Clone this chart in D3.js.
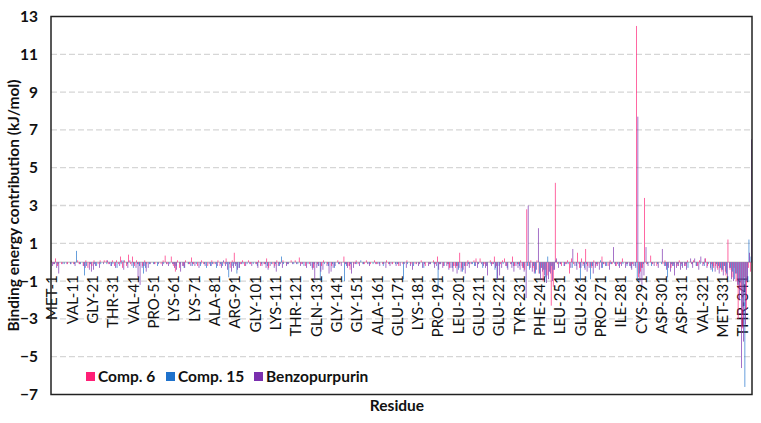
<!DOCTYPE html>
<html>
<head>
<meta charset="utf-8">
<script src="https://cdn.jsdelivr.net/npm/d3@7"></script>
<style>
  body { margin: 0; background: #fff; }
  text { font-family: Lato, "Liberation Sans", sans-serif; fill: #111; }
</style>
</head>
<body>
<div id="container"></div>
<script>
/* CONSTANTS AND GLOBALS */
const width = 761,
  height = 423,
  margin = { top: 16.5, bottom: 28.5, left: 51, right: 9 };

/* DATA */
// residue numbers 1..345 (one band per residue)
const residues = d3.range(1, 346);

// labelled residues on the x axis (every 10th)
const tickLabels = ["MET-1", "VAL-11", "GLY-21", "THR-31", "VAL-41", "PRO-51", "LYS-61", "LYS-71",
  "ALA-81", "ARG-91", "GLY-101", "LYS-111", "THR-121", "GLN-131", "GLY-141", "GLY-151", "ALA-161",
  "GLU-171", "LYS-181", "PRO-191", "LEU-201", "GLU-211", "GLU-221", "TYR-231", "PHE-241", "LEU-251",
  "GLU-261", "PRO-271", "ILE-281", "CYS-291", "ASP-301", "ASP-311", "VAL-321", "MET-331", "THR-341"];

const yTicks = [13, 11, 9, 7, 5, 3, 1, -1, -3, -5, -7];

const seriesNames = ["Comp. 6", "Comp. 15", "Benzopurpurin"];
const seriesColors = ["#ff1f76", "#1f72cc", "#7a2fae"];

// Comp. 6 (kJ/mol), residues 1..345
const comp6 = [
  0.1, -0.1, 0.2, -0.2, 0, -0.1, 0, 0, -0.1, 0,
  0, -0.1, 0, 0.1, -0.1, 0, -0.2, 0.1, -0.3, -0.1,
  -0.2, 0.1, 0, -0.1, 0.1, 0, 0.1, 0.1, -0.1, 0,
  0.1, -0.2, 0.1, -0.1, 0.3, -0.3, 0.1, -0.2, 0.4, -0.1,
  0.3, -0.2, 0.1, -0.1, 0, -0.2, 0.1, -0.1, 0, 0,
  0, -0.1, 0, 0, -0.1, 0.1, 0.35, -0.1, 0, 0.3,
  -0.2, -0.5, 0.1, -0.3, 0, -0.2, 0.1, 0, -0.1, 0.25,
  -0.1, 0, -0.2, 0, 0.1, -0.1, 0, -0.2, 0, 0.1,
  -0.1, 0, 0.1, -0.2, 0, -0.1, 0.2, 0, -0.3, 0.1,
  0.5, -0.1, 0, -0.1, 0.1, -0.2, 0, 0.1, -0.1, 0,
  0, -0.1, 0.1, -0.2, 0, -0.1, 0.2, -0.3, 0, -0.1,
  -0.2, 0.1, -0.1, 0, 0.1, 0, -0.1, 0, 0.1, 0,
  0.1, 0, 0.25, -0.1, 0, -0.2, 0, -0.1, 0, -0.3,
  0, -0.1, 0, -0.2, 0.1, 0, -0.1, 0, -0.2, 0,
  0, 0.1, -0.1, 0, 0.3, -0.1, -0.2, -0.4, 0, -0.1,
  0.1, -0.1, 0, 0, -0.1, 0.1, 0, -0.1, 0, 0.1,
  -0.1, 0, 0, -0.1, 0, 0.1, -0.1, 0, -0.1, 0,
  0, -0.2, 0, -0.1, 0, 0.1, 0, -0.1, 0, -0.1,
  0, -0.1, 0.1, 0, -0.2, 0, -0.1, 0, 0.1, -0.1,
  0.3, -0.1, 0, -0.2, 0, -0.1, -0.3, 0, -0.2, -0.3,
  -0.2, 0.5, -0.3, 0, -0.2, 0.1, -0.1, 0, 0.1, 0.2,
  -0.1, 0.2, 0, -0.1, -0.2, 0, 0.1, -0.1, 0.3, -0.2,
  0, -0.1, 0.1, 0.2, -0.2, 0, -0.1, 0.3, -0.2, 0,
  -0.1, 0.1, -0.3, -0.4, 2.8, -0.2, 0.1, -0.3, -0.5, 0.1,
  -0.6, -0.3, -1.0, -0.4, -0.7, -0.5, -2.3, -1.3, 4.2, -0.1,
  0, -0.2, 0, -0.1, 0.1, -0.6, 0.2, -0.1, 0, 0.5,
  -0.3, 0.2, -0.1, 0.7, -0.2, 0, -0.3, 0.1, -0.2, -0.1,
  0, 0.3, -0.1, 0, -0.2, 0.1, -0.1, 0, -0.2, 0,
  -0.1, 0.2, 0, -0.1, 0, -0.2, -0.1, 0, 12.5, -0.8,
  -0.5, -0.3, 3.4, -0.1, 0, 0.35, -0.1, 0, -0.2, 0,
  0, -0.1, 0.1, -0.2, 0, -0.3, -0.1, 0, -0.2, 0.1,
  -0.1, 0, -0.2, 0.1, 0, -0.1, 0.1, 0, -0.2, 0.1,
  0, -0.1, 0.2, -0.2, 0, -0.1, -0.3, -0.2, -0.4, -0.3,
  -0.5, -0.2, -0.7, 1.2, -0.4, -0.8, -0.3, -1.0, -3.0, -1.5,
  -3.5, -0.8, -2.5, -0.3, -0.5
];

// Comp. 15 (kJ/mol)
const comp15 = [
  0, -0.1, 0, -0.1, 0, 0, -0.1, 0, 0, -0.1,
  0, -0.1, 0.6, 0, -0.1, 0, -0.7, -0.2, 0, -0.1,
  0, -0.1, -0.2, 0, -0.1, 0, 0, -0.1, 0, -0.2,
  -0.1, 0, -0.3, 0, -0.1, 0.1, 0, -0.1, 0, 0,
  -0.3, 0, -0.1, -0.2, 0, -0.6, -0.3, 0, -0.1, 0,
  -0.1, 0, -0.2, 0, 0, -0.1, 0, 0, -0.1, 0,
  -0.1, -0.2, 0, -0.1, 0, -0.3, 0, -0.1, 0, -0.2,
  0, -0.1, 0, -0.2, 0, -0.1, -0.3, 0, -0.2, -0.1,
  0, -0.3, 0, -0.1, -0.2, 0, -0.1, -0.8, 0, -0.2,
  -0.1, -0.6, -0.3, 0, -0.1, 0, -0.1, 0, 0, -0.1,
  0, -0.2, 0, -0.1, 0, -0.1, -0.2, 0, -0.1, 0,
  -0.1, 0, -0.2, 0.3, -0.1, 0, -0.1, 0, 0, -0.1,
  0, -0.1, 0, 0, -0.2, 0, -0.1, 0, -0.3, -0.1,
  0, -0.2, -1.0, 0, -0.1, 0, -0.2, 0, -0.1, -0.3,
  0, -0.1, 0, 0, -1.0, -0.2, 0, -0.1, 0, 0,
  -0.1, 0, 0.1, -0.1, 0, 0, -0.1, 0, -0.1, 0,
  0, -0.1, 0, -0.2, 0, 0, -0.1, 0, 0, -0.1,
  -0.1, 0, 0, -0.9, 0, -0.1, 0, 0, -0.2, 0,
  0, -0.1, 0, -0.3, 0, 0, -0.1, 0, -0.1, 0,
  -1.6, -0.1, 0, -0.2, 0, -0.1, 0, -0.3, 0, -0.2,
  -0.4, 0, -0.5, -0.2, 0, -0.1, 0, -0.1, -0.2, 0,
  -0.1, 0, -0.3, 0, -0.2, 0, -0.1, 0, -0.4, -0.9,
  -0.2, 0, -0.1, 0, -0.3, 0, -0.1, -0.2, 0, -0.1,
  -0.2, 0, -0.3, 0, -0.2, -0.4, 0, -0.2, -0.6, 0,
  -0.6, -0.3, -0.4, -0.8, 0.3, -0.5, -0.2, -0.4, 0.1, 0,
  -0.1, 0, -0.2, 0, -0.1, 0, -0.3, 0, -0.2, 0,
  -1.0, 0, -0.3, -0.1, 0, -0.9, -0.2, 0, -0.1, 0,
  0.1, -0.3, 0, -0.2, 0, -0.1, 0, -0.1, 0, -0.2,
  0, -0.1, 0, -0.2, 0, -0.3, 0, -0.2, -1.0, -0.6,
  -0.3, -0.1, 0, -0.1, 0, -0.2, 0, 0, -0.1, 0,
  -0.1, 0, -0.2, -0.8, 0, -0.1, -0.2, 0, -0.1, 0,
  -0.2, 0, -0.1, -0.3, 0, -0.1, 0, -0.2, 0, -0.1,
  0, -0.2, 0, -0.1, -0.3, -0.5, 0, -0.1, -0.2, -0.3,
  -0.4, -0.2, -0.6, 0, -0.3, -0.5, -0.9, -0.6, -1.2, -1.0,
  -2.4, -6.6, -1.0, 1.2, 0.3
];

// Benzopurpurin (kJ/mol)
const benzo = [
  -0.2, -0.1, -0.3, -0.6, 0, -0.1, 0, -0.1, 0, -0.1,
  0, -0.2, 0, -0.1, 0, -0.2, -0.3, 0, -0.4, -0.5,
  -0.4, -0.2, 0, -0.3, 0, -0.1, 0, 0.1, -0.1, -0.2,
  0, -0.3, 0, -0.2, 0.1, -0.4, 0, -0.3, 0.1, -0.2,
  -0.1, -0.3, -0.8, -1.2, -0.3, -0.2, -0.5, -0.3, -0.1, 0,
  -0.1, 0, -0.1, 0, -0.2, 0, -0.1, -0.2, 0, -0.1,
  -0.3, -0.4, 0, -0.5, -0.2, -0.3, 0, -0.1, -0.2, -0.1,
  -0.2, 0, -0.3, -0.1, 0, -0.2, 0, -0.1, -0.2, 0,
  -0.1, -0.2, 0, -0.3, 0.1, -0.2, -0.4, -0.1, -0.5, -0.3,
  -0.2, -0.4, -0.3, -0.1, 0, -0.2, 0, -0.1, -0.2, 0,
  -0.1, -0.3, 0, -0.2, -0.1, -0.3, -0.4, -0.2, 0, -0.3,
  -0.5, -0.2, -0.1, -0.3, 0, -0.2, -0.1, 0, -0.1, 0,
  -0.1, 0, -0.2, -0.1, 0, -0.3, 0, -0.2, -0.4, -0.9,
  -0.3, -0.2, -0.5, -0.4, 0, -0.2, -0.6, -0.5, -0.3, -0.2,
  0, -0.1, -0.2, 0, -0.1, -0.3, -0.2, -0.6, -0.3, -0.1,
  0, -0.2, 0, -0.1, 0, -0.1, -0.2, 0, 0, -0.1,
  -0.1, -0.2, 0, -0.1, -0.3, 0, -0.2, -0.1, 0, -0.2,
  -0.1, -0.2, 0, -0.1, -0.3, 0, -0.2, -0.4, 0, -0.1,
  -0.2, 0, -0.3, -0.1, 0, -0.2, -0.1, 0, -0.3, -0.2,
  -0.4, -0.1, -0.3, 0, -0.2, -0.4, -0.3, -0.5, -0.2, -0.6,
  -0.3, -0.5, -0.4, -0.6, -0.2, -0.3, -0.1, 0, -0.2, -0.3,
  0, -0.1, -0.2, -0.3, -0.7, 0, -0.2, -0.1, -0.3, -0.9,
  -0.7, -0.3, 0, -0.2, -0.4, 0, -0.3, -0.5, -0.2, -0.3,
  -0.4, -0.2, -0.5, -1.9, 3.0, -0.3, -0.5, -0.6, -0.4, 1.8,
  -0.9, -0.5, -0.7, -1.1, -0.9, -0.6, -1.0, -0.4, 0.2, -0.3,
  -0.1, 0, -0.2, -0.1, 0, -0.3, 0.7, -0.2, -0.4, -0.1,
  -0.3, -0.2, -0.4, -0.5, -0.3, -0.2, -0.6, -0.3, -0.2, -0.4,
  -0.3, -0.1, -0.2, 0, -0.4, -0.1, 0.8, -0.2, -0.1, -0.3,
  -0.2, 0, -0.3, -0.1, -0.2, -0.4, -0.2, -0.3, 7.7, -1.0,
  -1.2, -0.7, 0.8, -0.2, 0, -0.1, -0.2, 0, -0.3, 0,
  0.7, -0.2, -0.4, -0.3, -0.5, -0.2, -0.7, -0.3, -0.2, -0.4,
  -0.3, -0.2, -0.4, 0, 0.2, -0.3, 0.2, -0.2, -0.4, 0.3,
  -0.2, 0.2, -0.3, 0, -0.4, -0.2, -0.5, -0.3, -0.6, -0.4,
  -0.7, -0.5, -0.8, -0.3, -0.9, -1.0, -0.6, -1.2, -2.0, -5.6,
  -4.2, -3.3, -1.0, 0.5, 6.5
];

const seriesValues = [comp6, comp15, benzo];

/* SCALES */
const xScale = d3.scaleBand()
  .domain(residues)
  .range([margin.left, width - margin.right])
  .padding(0);

const xInner = d3.scaleBand()
  .domain(d3.range(seriesNames.length))
  .range([0, xScale.bandwidth()])
  .padding(0);

const yScale = d3.scaleLinear()
  .domain([-7, 13])
  .range([height - margin.bottom, margin.top]);

const colorScale = d3.scaleOrdinal()
  .domain(d3.range(seriesNames.length))
  .range(seriesColors);

/* HTML ELEMENTS */
const svg = d3.select("#container")
  .append("svg")
  .attr("width", width)
  .attr("height", height);

// dashed gridlines
svg.append("g")
  .selectAll("line")
  .data(yTicks.filter(d => d !== 13 && d !== -7))
  .join("line")
  .attr("x1", margin.left)
  .attr("x2", width - margin.right)
  .attr("y1", d => yScale(d))
  .attr("y2", d => yScale(d))
  .attr("stroke", "#d6d6d6")
  .attr("stroke-width", 1.3)
  .attr("stroke-dasharray", "6,3");

// zero line
svg.append("line")
  .attr("x1", margin.left)
  .attr("x2", width - margin.right)
  .attr("y1", yScale(0))
  .attr("y2", yScale(0))
  .attr("stroke", "#cfcfcf")
  .attr("stroke-width", 1.5);

// x axis labels (every 10th residue)
const xAxis = d3.axisBottom(xScale)
  .tickValues(residues.filter(r => r % 10 === 1))
  .tickFormat((r, i) => tickLabels[i])
  .tickSize(0);

svg.append("g")
  .attr("transform", `translate(0, ${yScale(0)})`)
  .call(xAxis)
  .call(g => g.select(".domain").remove())
  .selectAll("text")
  .attr("transform", "rotate(-90)")
  .attr("x", -13)
  .attr("y", 0)
  .attr("dy", "0.36em")
  .attr("text-anchor", "end")
  .attr("font-size", 15)
  .attr("font-family", "Lato, sans-serif")
  .attr("fill", "#111");

// bars
const bars = [];
residues.forEach((r, i) => {
  seriesValues.forEach((vals, s) => bars.push({ r, s, v: vals[i] }));
});

svg.append("g")
  .selectAll("rect")
  .data(bars.filter(d => d.v !== 0))
  .join("rect")
  .attr("x", d => xScale(d.r) + xInner(d.s))
  .attr("width", xInner.bandwidth())
  .attr("y", d => yScale(Math.max(0, d.v)))
  .attr("height", d => Math.abs(yScale(d.v) - yScale(0)))
  .attr("fill", d => colorScale(d.s));

// y axis
const yAxis = d3.axisLeft(yScale)
  .tickValues(yTicks)
  .tickFormat(d3.format("d"))
  .tickSize(0)
  .tickPadding(13);

svg.append("g")
  .attr("transform", `translate(${margin.left}, 0)`)
  .call(yAxis)
  .call(g => g.select(".domain").remove())
  .selectAll("text")
  .attr("font-size", 15.5)
  .attr("font-weight", "bold")
  .attr("font-family", "Lato, sans-serif")
  .attr("fill", "#111");

// plot border
svg.append("rect")
  .attr("x", margin.left)
  .attr("y", margin.top)
  .attr("width", width - margin.left - margin.right)
  .attr("height", height - margin.top - margin.bottom)
  .attr("fill", "none")
  .attr("stroke", "#222")
  .attr("stroke-width", 1.5);

// axis titles
svg.append("text")
  .attr("transform", `translate(14, ${(margin.top + height - margin.bottom) / 2}) rotate(-90)`)
  .attr("text-anchor", "middle")
  .attr("dy", "0.35em")
  .attr("font-size", 15.5)
  .attr("font-weight", "bold")
  .text("Binding energy contribution (kJ/mol)");

svg.append("text")
  .attr("x", 397)
  .attr("y", 411)
  .attr("text-anchor", "middle")
  .attr("font-size", 15.5)
  .attr("font-weight", "bold")
  .text("Residue");

// legend
const legendX = [86, 166, 254];
const legend = svg.append("g")
  .selectAll("g")
  .data(seriesNames)
  .join("g")
  .attr("transform", (d, i) => `translate(${legendX[i]}, 372)`);

legend.append("rect")
  .attr("width", 9)
  .attr("height", 9)
  .attr("fill", (d, i) => colorScale(i));

legend.append("text")
  .attr("x", 12)
  .attr("y", 4.5)
  .attr("dy", "0.36em")
  .attr("font-size", 15.5)
  .attr("font-weight", "bold")
  .text(d => d);
</script>
</body>
</html>
